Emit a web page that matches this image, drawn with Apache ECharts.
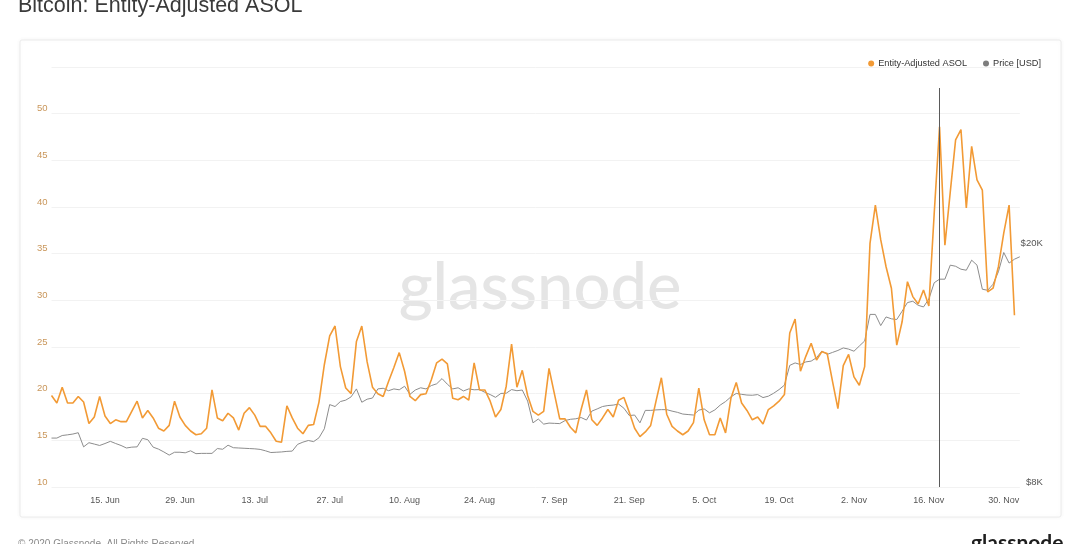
<!DOCTYPE html>
<html>
<head>
<meta charset="utf-8">
<script src="https://cdn.jsdelivr.net/npm/echarts@6/dist/echarts.min.js"></script>
<style>
html,body{margin:0;padding:0;background:#fff;}
#c{width:1080px;height:544px;}
</style>
</head>
<body>
<div id="c"></div>
<script>
// ---- data ----
const startDate = '2020-06-05';
const dayCount = 182;
const monthNames = ['Jan','Feb','Mar','Apr','May','Jun','Jul','Aug','Sep','Oct','Nov','Dec'];
const tickLabelDates = ['2020-06-15','2020-06-29','2020-07-13','2020-07-27','2020-08-10','2020-08-24','2020-09-07','2020-09-21','2020-10-05','2020-10-19','2020-11-02','2020-11-16','2020-11-30'];
const crosshairDate = '2020-11-18';

const asol = [
19.8,19.0,20.7,19.0,19.0,19.7,19.1,16.8,17.5,19.7,17.6,16.8,17.2,17.0,17.0,18.1,19.2,17.4,18.2,17.4,
16.3,16.0,16.6,19.2,17.5,16.6,16.0,15.6,15.7,16.3,20.4,17.4,17.1,17.9,17.4,16.1,17.9,18.5,17.7,16.5,
16.5,15.8,14.9,14.8,18.7,17.4,16.3,15.7,16.6,16.7,19.1,23.1,26.2,27.25,22.9,20.6,20.0,25.6,27.25,23.4,
20.7,20.0,19.7,21.3,22.8,24.4,22.4,19.7,19.25,19.9,20.0,21.5,23.3,23.7,23.2,19.5,19.35,19.7,19.3,23.3,
20.4,20.4,19.2,17.5,18.3,20.8,25.3,20.7,22.5,19.8,18.1,17.7,18.1,22.7,20.0,17.3,17.3,16.4,15.8,18.3,
20.4,17.2,16.6,17.4,18.3,17.5,19.3,19.6,18.0,16.3,15.4,15.9,16.6,19.2,21.7,17.8,16.5,16.0,15.6,16.0,
16.9,20.6,17.2,15.6,15.6,17.4,15.8,19.5,21.2,19.0,18.2,17.2,17.5,16.75,18.3,18.7,19.2,19.9,26.5,28.0,
22.4,24.0,25.4,23.6,24.5,24.3,21.3,18.4,23.0,24.2,21.8,20.9,22.9,36.1,40.2,36.5,33.6,31.3,25.2,27.7,
32.0,30.4,29.6,31.1,29.4,39.3,48.6,35.9,41.6,47.2,48.3,39.9,46.5,42.9,41.8,30.9,31.3,33.6,37.2,40.2,
28.4
];

const price = [
9650,9650,9745,9770,9800,9850,9330,9480,9430,9380,9450,9530,9450,9380,9290,9320,9330,9640,9590,9320,
9250,9150,9040,9140,9140,9120,9190,9090,9100,9100,9100,9270,9245,9390,9300,9290,9280,9270,9260,9240,
9190,9130,9140,9150,9170,9180,9420,9500,9560,9520,9660,10000,10970,10890,11100,11160,11300,11650,11070,11200,
11250,11650,11680,11570,11650,11610,11770,11410,11600,11700,11650,11800,11880,12120,11860,11650,11700,11560,11650,11610,
11620,11500,11400,11280,11450,11460,11620,11570,11600,11120,10230,10380,10180,10220,10210,10200,10320,10370,10390,10440,
10340,10700,10790,10890,10930,10950,10990,10820,10520,10540,10230,10730,10730,10750,10760,10760,10700,10650,10580,10560,
10540,10740,10790,10630,10750,10950,11100,11300,11450,11410,11380,11370,11400,11270,11330,11460,11620,11820,12750,12870,
12790,12920,12960,13130,13470,13300,13400,13500,13630,13570,13460,13730,14000,15500,15500,14850,15350,15240,15200,15690,
16220,16300,16050,15950,16440,17500,17740,17740,18720,18640,18430,18360,19080,18720,17070,17000,17400,18250,19650,18870,
19150,19330
];

const leftTicks = {min: 10, max: 55, interval: 5};
const rightTicks = {min: 8000, max: 40000, labels: [8000, 20000]};

// ---- build categories ----
const categories = [];
{
  const d0 = new Date(startDate + 'T00:00:00Z');
  for (let i = 0; i < dayCount; i++) {
    const d = new Date(d0.getTime() + i * 86400000);
    categories.push(d.toISOString().slice(0, 10));
  }
}
function fmtDate(s) {
  const d = new Date(s + 'T00:00:00Z');
  return d.getUTCDate() + '. ' + monthNames[d.getUTCMonth()];
}

const chart = echarts.init(document.getElementById('c'), null, {renderer: 'canvas'});
const FONT = '"Helvetica Neue", "Liberation Sans", Arial, sans-serif';

chart.setOption({
  animation: false,
  backgroundColor: '#ffffff',
  textStyle: {fontFamily: FONT},
  graphic: [
    {type: 'rect', z: -10, shape: {x: 20, y: 40, width: 1041, height: 477, r: 2},
     style: {fill: '#ffffff', stroke: '#ececec', lineWidth: 1, shadowBlur: 4, shadowColor: 'rgba(0,0,0,0.05)'}},
    {type: 'text', left: 18, top: -5, style: {text: 'Bitcoin: Entity-Adjusted ASOL', font: '21.5px ' + FONT, fill: '#3a3a3a'}},
    {type: 'text', x: 540, y: 288, z: -5, style: {text: 'glassnode', font: '500 65px Lato, "Open Sans", sans-serif', fill: '#e5e5e5', align: 'center', verticalAlign: 'middle'}},
    {type: 'text', left: 18, top: 539, style: {text: '© 2020 Glassnode. All Rights Reserved.', font: '10px ' + FONT, fill: '#8a8a8a'}},
    {type: 'text', left: 971, top: 533, style: {text: 'glassnode', font: 'bold 21px Lato, "Open Sans", sans-serif', fill: '#1e1e1e'}}
  ],
  legend: {
    right: 34, top: 54,
    icon: 'circle', itemWidth: 6, itemHeight: 6, itemGap: 16,
    textStyle: {fontSize: 9.2, color: '#333', fontWeight: 500, fontFamily: FONT, padding: [0, 0, 0, -1]},
    data: ['Entity-Adjusted ASOL', 'Price [USD]']
  },
  grid: {left: 51.5, right: 60.2, top: 67, bottom: 57, containLabel: false},
  xAxis: {
    type: 'category',
    data: categories,
    boundaryGap: false,
    axisLine: {show: false},
    axisTick: {show: false},
    splitLine: {show: false},
    axisLabel: {
      color: '#555', fontSize: 9, margin: 9,
      interval: (idx, val) => tickLabelDates.indexOf(val) >= 0,
      formatter: fmtDate
    }
  },
  yAxis: [
    {
      type: 'value', position: 'left',
      min: leftTicks.min, max: leftTicks.max, interval: leftTicks.interval,
      axisLine: {show: false}, axisTick: {show: false},
      splitLine: {lineStyle: {color: '#f2f2f2', width: 1}},
      axisLabel: {color: '#c9965a', fontSize: 9.5, margin: 4, showMaxLabel: false, verticalAlign: 'bottom', lineHeight: 10}
    },
    {
      type: 'log', position: 'right', logBase: 10,
      min: rightTicks.min, max: rightTicks.max,
      axisLine: {show: false}, axisTick: {show: false},
      splitLine: {show: false},
      axisLabel: {
        customValues: rightTicks.labels,
        color: '#555', fontSize: 9.5, margin: 23, align: 'right',
        verticalAlign: 'bottom', lineHeight: 10,
        formatter: v => '$' + Math.round(v / 1000) + 'K'
      }
    }
  ],
  series: [
    {
      name: 'Price [USD]', type: 'line', yAxisIndex: 1, data: price,
      showSymbol: false, symbol: 'none', color: '#7d7d7d',
      lineStyle: {color: '#8c8c8c', width: 1}, z: 2
    },
    {
      name: 'Entity-Adjusted ASOL', type: 'line', yAxisIndex: 0, data: asol,
      showSymbol: false, symbol: 'none', color: '#f29a35',
      lineStyle: {color: '#f29a35', width: 1.6}, z: 3,
      markLine: {
        silent: true, symbol: 'none', animation: false,
        label: {show: false},
        lineStyle: {color: '#5a5a5a', width: 1, type: 'solid'},
        data: [[{coord: [crosshairDate, 52.75]}, {coord: [crosshairDate, 10]}]]
      }
    }
  ]
});
</script>
</body>
</html>
